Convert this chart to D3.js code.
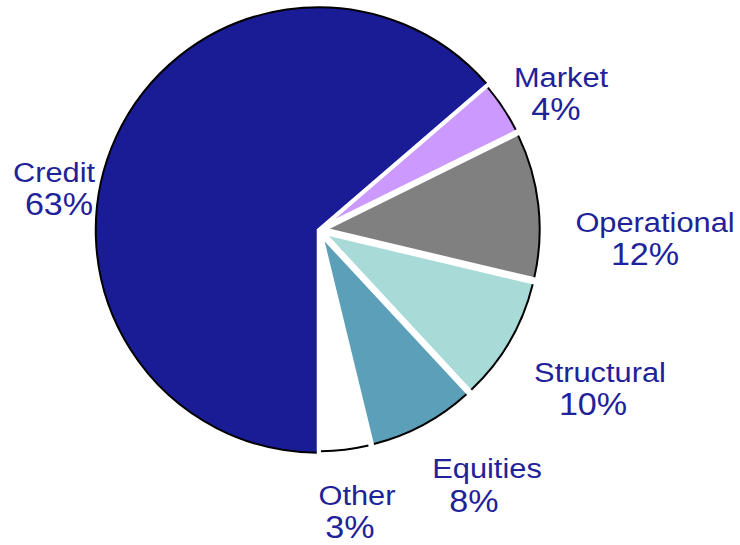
<!DOCTYPE html>
<html><head><meta charset="utf-8">
<script src="https://cdn.jsdelivr.net/npm/d3@7"></script>
<style>body{margin:0;background:#fff}svg{display:block}</style>
</head><body>
<svg id="chart" width="740" height="545"></svg>
<script>
// ---- data ----
const categories = ["Credit", "Market", "Operational", "Structural", "Equities", "Other"];
const values = [63.7, 4.0, 11.0, 9.4, 8.1, 3.8];
const valueLabels = ["63%", "4%", "12%", "10%", "8%", "3%"];

// ---- styles / layout ----
const colors = ["#1a1c96", "#cc99ff", "#808080", "#a8dbd8", "#5c9fb8", "#ffffff"];
const textColor = "#1f2299";
const cx = 318.5, cy = 230;
const rMain = 224.5, rSmall = 217, explode = 6, gapW = 3.5;
// label anchors: [nameX, nameY, pctX, pctY]
const labelLayout = [
  [54, 182, 59, 215],
  [561, 87, 556, 120],
  [655, 232, 645, 265],
  [600, 382, 593, 415],
  [487, 478, 474, 512],
  [357, 505, 350, 538]
];

const svg = d3.select("#chart");
const pie = d3.pie().sort(null).startAngle(Math.PI).endAngle(3 * Math.PI);
const arcs = pie(values);

const slices = arcs.map((a, i) => {
  const mid = (a.startAngle + a.endAngle) / 2;
  const off = i === 0 ? 0 : explode;
  const r = i === 0 ? rMain : rSmall;
  return {a, i, r, tx: cx + off * Math.sin(mid), ty: cy - off * Math.cos(mid)};
});

const gFill = svg.append("g");
slices.forEach(s => {
  const arc = d3.arc().innerRadius(0).outerRadius(s.r).padAngle(0);
  gFill.append("path")
    .attr("transform", `translate(${s.tx},${s.ty})`)
    .attr("d", arc(s.a))
    .attr("fill", colors[s.i])
    .attr("stroke", "#fff")
    .attr("stroke-width", gapW)
    .attr("stroke-linejoin", "miter");
});

const gEdge = svg.append("g");
slices.forEach(s => {
  const rr = s.r - gapW / 2;
  const edge = d3.arc().innerRadius(rr).outerRadius(rr)
    .padRadius(rr).padAngle(gapW / rr);
  gEdge.append("path")
    .attr("transform", `translate(${s.tx},${s.ty})`)
    .attr("d", edge(s.a))
    .attr("fill", "none")
    .attr("stroke", "#000")
    .attr("stroke-width", 2);
});

const gLab = svg.append("g")
  .attr("font-family", "'Liberation Sans', Arial, Helvetica, sans-serif")
  .attr("fill", textColor)
  .attr("text-anchor", "middle");
categories.forEach((c, i) => {
  const L = labelLayout[i];
  gLab.append("text")
    .attr("transform", `translate(${L[0]},${L[1]}) scale(1.1,1)`)
    .attr("font-size", 28)
    .text(c);
  gLab.append("text")
    .attr("transform", `translate(${L[2]},${L[3]}) scale(1.1,1)`)
    .attr("font-size", 31)
    .text(valueLabels[i]);
});
</script>
</body></html>
